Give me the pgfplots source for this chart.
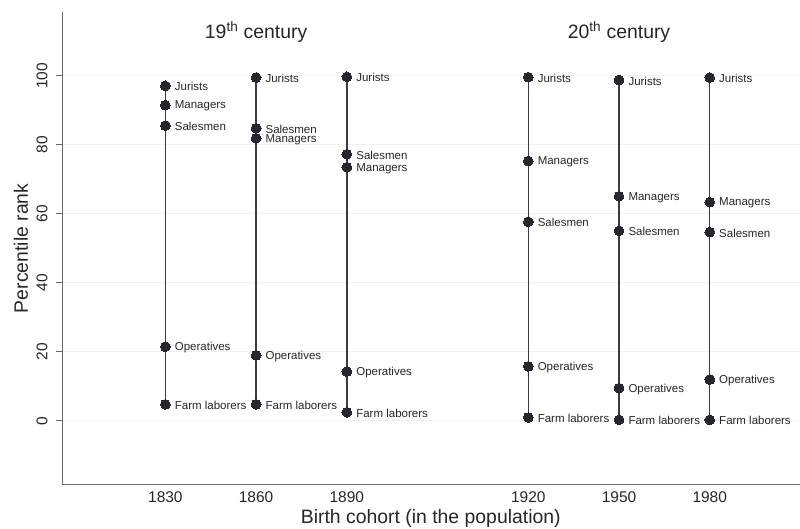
\documentclass[border=0pt]{standalone}
\usepackage{pgfplots}
\usepackage{pgfplotstable}
\pgfplotsset{compat=1.18}
\usepackage{fontspec}
\setmainfont{Liberation Sans}
\definecolor{mk}{HTML}{26262E}
\definecolor{ln}{HTML}{3A3A42}
\definecolor{txt}{HTML}{262626}
\definecolor{grd}{HTML}{F1F1F1}
\definecolor{axl}{HTML}{6A6A6A}

\pgfplotstableread[col sep=comma,row sep=\\]{
x,y,label\\
0,97.1,Jurists\\
0,91.5,Managers\\
0,85.6,Salesmen\\
0,21.5,Operatives\\
0,4.8,Farm laborers\\
}\tA
\pgfplotstableread[col sep=comma,row sep=\\]{
x,y,label\\
1,99.5,Jurists\\
1,84.8,Salesmen\\
1,81.9,Managers\\
1,19.0,Operatives\\
1,4.8,Farm laborers\\
}\tB
\pgfplotstableread[col sep=comma,row sep=\\]{
x,y,label\\
2,99.7,Jurists\\
2,77.3,Salesmen\\
2,73.5,Managers\\
2,14.3,Operatives\\
2,2.5,Farm laborers\\
}\tC
\pgfplotstableread[col sep=comma,row sep=\\]{
x,y,label\\
4,99.6,Jurists\\
4,75.3,Managers\\
4,57.7,Salesmen\\
4,15.8,Operatives\\
4,1.0,Farm laborers\\
}\tD
\pgfplotstableread[col sep=comma,row sep=\\]{
x,y,label\\
5,98.8,Jurists\\
5,65.1,Managers\\
5,55.1,Salesmen\\
5,9.5,Operatives\\
5,0.3,Farm laborers\\
}\tE
\pgfplotstableread[col sep=comma,row sep=\\]{
x,y,label\\
6,99.5,Jurists\\
6,63.4,Managers\\
6,54.7,Salesmen\\
6,12.0,Operatives\\
6,0.3,Farm laborers\\
}\tF

\pgfplotsset{cohort/.style={ln, line width=1.5pt, mark=*, mark size=4.9pt,
  mark options={solid, fill=mk, draw=mk, line width=0pt},
  nodes near coords, point meta=explicit symbolic,
  nodes near coords align={anchor=west},
  every node near coord/.append style={font=\fontsize{11.5}{13}\selectfont, text=txt, inner sep=0pt, xshift=9.5pt, yshift=-1pt}}}

\begin{document}
\begin{tikzpicture}
\begin{axis}[
 scale only axis, width=738pt, height=473pt,
 xmin=-1.14, xmax=6.99, ymin=-18.5, ymax=118.5,
 axis x line*=bottom, axis y line*=left,
 axis line style={axl, line width=0.9pt, -},
 xtick={0,1,2,4,5,6}, xticklabels={1830,1860,1890,1920,1950,1980},
 ytick={0,20,40,60,80,100},
 xtick style={draw=none},
 ytick style={axl, line width=0.9pt},
 tick align=outside, major tick length=6pt,
 ymajorgrids, grid style={grd, line width=0.9pt},
 /pgf/number format/assume math mode=true,
 tick label style={font=\fontsize{15.5}{18}\selectfont, text=txt},
 xticklabel style={anchor=center, inner sep=0pt, yshift=-6pt},
 yticklabel style={anchor=center, inner sep=0pt, xshift=-14pt, rotate=90},
 xlabel={Birth cohort (in the population)}, ylabel={Percentile rank},
 label style={font=\fontsize{19.4}{22}\selectfont, text=txt, inner sep=0pt},
 xlabel style={at={(axis description cs:0.5,0)}, anchor=center, yshift=-34pt},
 ylabel style={at={(axis description cs:0,0.5)}, anchor=center, yshift=41pt},
 clip=false,
]
\addplot[cohort] table[x=x, y=y, meta=label] {\tA};
\addplot[cohort] table[x=x, y=y, meta=label] {\tB};
\addplot[cohort] table[x=x, y=y, meta=label] {\tC};
\addplot[cohort] table[x=x, y=y, meta=label] {\tD};
\addplot[cohort] table[x=x, y=y, meta=label] {\tE};
\addplot[cohort] table[x=x, y=y, meta=label] {\tF};
\node[font=\fontsize{19.4}{22}\selectfont, text=txt] at (axis cs:1,112.7) {19\textsuperscript{th} century};
\node[font=\fontsize{19.4}{22}\selectfont, text=txt] at (axis cs:5,112.7) {20\textsuperscript{th} century};
\end{axis}
\path (current axis.north east) ++(0,12pt);
\path (current axis.south west) ++(-62pt,-44pt);
\end{tikzpicture}
\end{document}
